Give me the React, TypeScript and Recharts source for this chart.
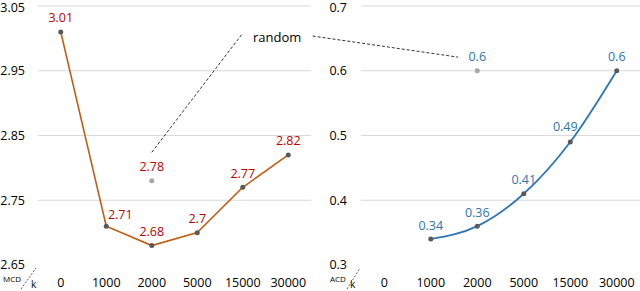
import React from 'react';
import { ComposedChart, Line, XAxis, YAxis, CartesianGrid, LabelList, ReferenceLine } from 'recharts';

const categories = ['0', '1000', '2000', '5000', '15000', '30000'];
const mcdValues = [3.01, 2.71, 2.68, 2.7, 2.77, 2.82];
const mcdRandom = [null, null, 2.78, null, null, null];
const acdValues = [null, 0.34, 0.36, 0.41, 0.49, 0.6];
const acdRandom = [null, null, 0.6, null, null, null];
const mcdTicks = [2.65, 2.75, 2.85, 2.95, 3.05];
const acdTicks = [0.3, 0.4, 0.5, 0.6, 0.7];

const mcdData = categories.map((c, i) => ({ i, cat: c, value: mcdValues[i], random: mcdRandom[i] }));
const acdData = categories.map((c, i) => ({ i, cat: c, value: acdValues[i], random: acdRandom[i] }));

const FONT = '"Open Sans", "Noto Sans", sans-serif';
const RED = '#C00000';
const BLUE = '#2E75B6';
const ORANGE = '#C55A11';

const mcdShift: Record<number, [number, number]> = { 1: [14, 2] };
const acdShift: Record<number, [number, number]> = { 4: [-5, -1] };

const makeLabel = (color: string, shifts: Record<number, [number, number]>) => (props: any) => {
  const { x, y, value, index } = props;
  if (value == null || x == null || y == null) return null;
  const [dx, dy] = (index != null && shifts[index]) || [0, 0];
  return (
    <text x={x + dx} y={y - 14 + dy} fill={color} fontSize={12.5} fontFamily={FONT}
      textAnchor="middle" dominantBaseline="central">{value}</text>
  );
};

const tickStyle = { fill: '#000', fontSize: 12.5, fontFamily: FONT };

export default function App() {
  return (
    <div style={{ position: 'absolute', left: 0, top: 0, width: 640, height: 291, background: '#fff' }}>
      <div style={{ position: 'absolute', left: 0, top: 0 }}>
        <ComposedChart width={312} height={291} data={mcdData} margin={{ top: 6, right: 1, bottom: 0, left: 0 }}>
          <CartesianGrid vertical={false} horizontalValues={[2.75, 2.85, 2.95, 3.05]} stroke="#D9D9D9" />
          <XAxis dataKey="i" type="number" domain={[-0.5, 5.5]} ticks={[0, 1, 2, 3, 4, 5]}
            tickFormatter={(v: number) => categories[v]} axisLine={false} tickLine={false}
            tickSize={0} tickMargin={13} height={26} tick={tickStyle} interval={0} allowDataOverflow />
          <YAxis domain={[2.65, 3.05]} ticks={mcdTicks} width={38} axisLine={false} tickLine={false}
            tickSize={0} tickMargin={13} tick={tickStyle} tickFormatter={(v: number) => v.toFixed(2)} allowDataOverflow />
          <ReferenceLine segment={[{ x: 2, y: 2.824 }, { x: 4, y: 3.008 }]} stroke="#333" strokeDasharray="3 2" ifOverflow="visible" />
          <Line dataKey="value" type="linear" stroke={ORANGE} strokeWidth={1.6}
            dot={{ r: 2.5, fill: '#595959', stroke: 'none' }} activeDot={false} isAnimationActive={false}>
            <LabelList dataKey="value" content={makeLabel(RED, mcdShift)} />
          </Line>
          <Line dataKey="random" type="linear" stroke="none"
            dot={{ r: 2.5, fill: '#A6A6A6', stroke: 'none' }} activeDot={false} isAnimationActive={false}>
            <LabelList dataKey="random" content={makeLabel(RED, {})} />
          </Line>
        </ComposedChart>
      </div>
      <div style={{ position: 'absolute', left: 312, top: 0 }}>
        <ComposedChart width={328} height={291} data={acdData} margin={{ top: 6, right: 0, bottom: 0, left: 0 }}>
          <CartesianGrid vertical={false} horizontalValues={[0.4, 0.5, 0.6, 0.7]} stroke="#D9D9D9" />
          <XAxis dataKey="i" type="number" domain={[-0.5, 5.5]} ticks={[0, 1, 2, 3, 4, 5]}
            tickFormatter={(v: number) => categories[v]} axisLine={false} tickLine={false}
            tickSize={0} tickMargin={13} height={26} tick={tickStyle} interval={0} allowDataOverflow />
          <YAxis domain={[0.3, 0.7]} ticks={acdTicks} width={49} axisLine={false} tickLine={false}
            tickSize={0} tickMargin={14} tick={tickStyle} allowDataOverflow />
          <ReferenceLine segment={[{ x: -1.54, y: 0.6536 }, { x: 1.59, y: 0.621 }]} stroke="#333" strokeDasharray="3 2" ifOverflow="visible" />
          <Line dataKey="value" type="monotone" stroke={BLUE} strokeWidth={1.8}
            dot={{ r: 2.5, fill: '#595959', stroke: 'none' }} activeDot={false} isAnimationActive={false}>
            <LabelList dataKey="value" content={makeLabel(BLUE, acdShift)} />
          </Line>
          <Line dataKey="random" type="linear" stroke="none"
            dot={{ r: 2.5, fill: '#A6A6A6', stroke: 'none' }} activeDot={false} isAnimationActive={false}>
            <LabelList dataKey="random" content={makeLabel(BLUE, {})} />
          </Line>
        </ComposedChart>
      </div>
      <svg width={640} height={291} style={{ position: 'absolute', left: 0, top: 0, pointerEvents: 'none' }}>
        <text x={253} y={37} fontSize={13} fontFamily={FONT} fill="#000" dominantBaseline="central">random</text>
        <text x={3} y={278} fontSize={8} fontFamily={FONT} fill="#000" dominantBaseline="central">MCD</text>
        <text x={31} y={284} fontSize={10} fontFamily={FONT} fill="#000" dominantBaseline="central">k</text>
        <line x1={21} y1={289} x2={36} y2={268} stroke="#333" strokeWidth={0.8} strokeDasharray="2 1.5" />
        <text x={330} y={278} fontSize={8} fontFamily={FONT} fill="#000" dominantBaseline="central">ACD</text>
        <text x={350} y={284} fontSize={10} fontFamily={FONT} fill="#000" dominantBaseline="central">k</text>
        <line x1={347} y1={289} x2={360} y2={268} stroke="#333" strokeWidth={0.8} strokeDasharray="2 1.5" />
      </svg>
    </div>
  );
}
